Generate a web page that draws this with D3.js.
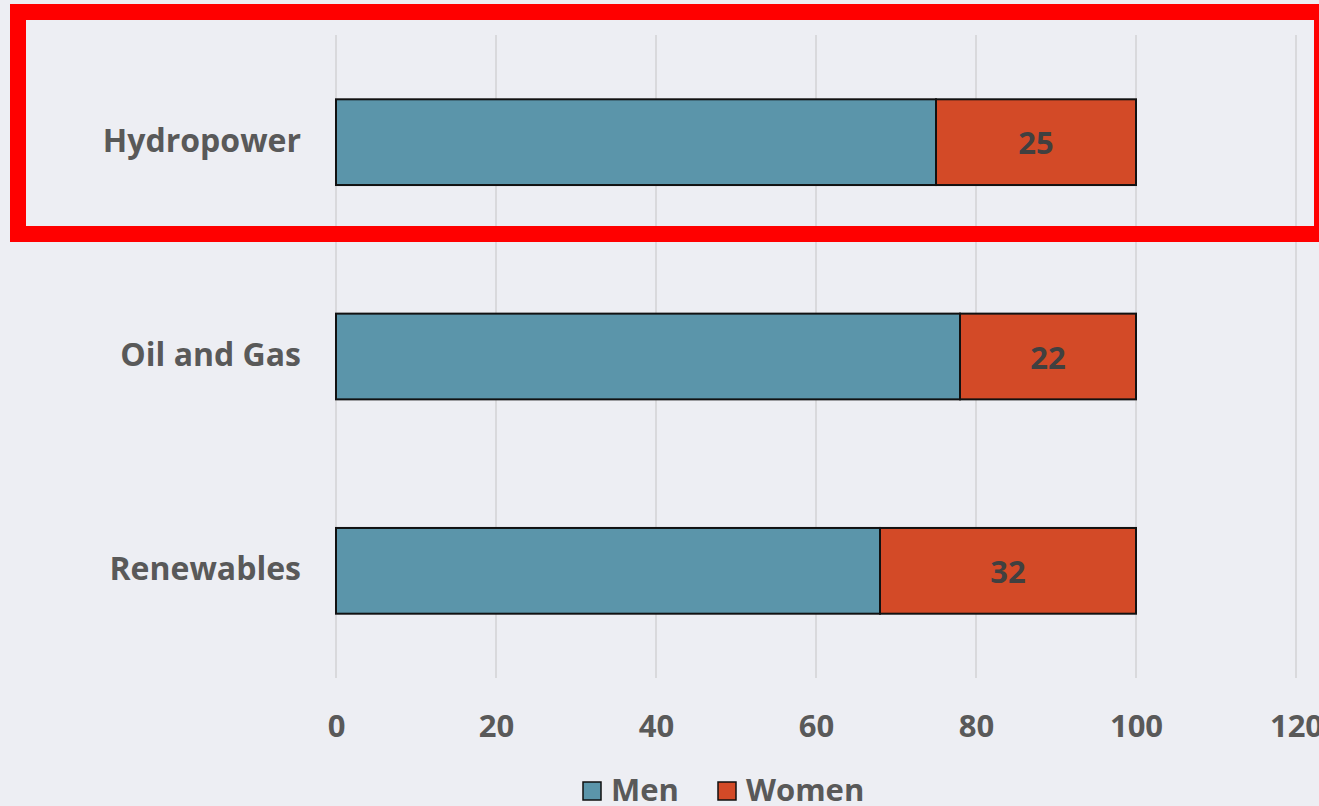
<!DOCTYPE html>
<html><head><meta charset="utf-8">
<script src="https://cdn.jsdelivr.net/npm/d3@7"></script>
<style>
html,body{margin:0;padding:0;background:#EDEEF3;}
svg{display:block;font-family:"Open Sans",sans-serif;}
</style></head>
<body><svg id="chart" width="1319" height="806"></svg>
<script>
const categories = ["Hydropower", "Oil and Gas", "Renewables"];
const men = [75, 78, 68];
const women = [25, 22, 32];
const xTicks = [0, 20, 40, 60, 80, 100, 120];
const seriesNames = ["Men", "Women"];
const seriesColors = ["#5B95AA", "#D34A27"];

const svg = d3.select("#chart");
svg.append("rect").attr("width",1319).attr("height",806).attr("fill","#EDEEF3");

const x = d3.scaleLinear().domain([0,120]).range([336,1296]);
const y = d3.scaleBand().domain(categories).range([35,678]).paddingInner(0.6).paddingOuter(0.3);

// gridlines
svg.append("g").selectAll("line").data(xTicks).join("line")
  .attr("x1",d=>x(d)).attr("x2",d=>x(d)).attr("y1",35).attr("y2",678)
  .attr("stroke","#D9D9DC").attr("stroke-width",2);

// x axis labels
const xAxis = d3.axisBottom(x).tickValues(xTicks).tickSize(0).tickPadding(0);
const gx = svg.append("g").attr("transform","translate(0,726)").call(xAxis);
gx.select(".domain").remove();
gx.selectAll("text").attr("font-size",31).attr("font-weight",700).attr("fill","#595959")
  .attr("font-family","'Open Sans',sans-serif").attr("dy","0.36em");

// y axis labels
const yAxis = d3.axisLeft(y).tickSize(0).tickPadding(0);
const gy = svg.append("g").attr("transform","translate(301,0)").call(yAxis);
gy.select(".domain").remove();
gy.selectAll("text").attr("font-size",32).attr("font-weight",700).attr("fill","#595959")
  .attr("font-family","'Open Sans',sans-serif").attr("dy","0.3em");

const rows = categories.map((c,i)=>({c, m:men[i], w:women[i]}));

// men bars
svg.append("g").selectAll("rect").data(rows).join("rect")
  .attr("x",x(0)).attr("y",d=>y(d.c)).attr("width",d=>x(d.m)-x(0)).attr("height",y.bandwidth())
  .attr("fill",seriesColors[0]).attr("stroke","#111").attr("stroke-width",2);
// women bars
svg.append("g").selectAll("rect").data(rows).join("rect")
  .attr("x",d=>x(d.m)).attr("y",d=>y(d.c)).attr("width",d=>x(d.m+d.w)-x(d.m)).attr("height",y.bandwidth())
  .attr("fill",seriesColors[1]).attr("stroke","#111").attr("stroke-width",2);
// labels
svg.append("g").selectAll("text").data(rows).join("text")
  .attr("x",d=>x(d.m+d.w/2)).attr("y",d=>y(d.c)+y.bandwidth()/2+1)
  .attr("dy","0.36em").attr("text-anchor","middle")
  .attr("font-size",31).attr("font-weight",700).attr("fill","#404040")
  .text(d=>d.w);

// legend
const leg = svg.append("g");
const legX = [583, 718];
seriesNames.forEach((s,i)=>{
  leg.append("rect").attr("x",legX[i]).attr("y",782).attr("width",18).attr("height",18)
    .attr("fill",seriesColors[i]).attr("stroke","#111").attr("stroke-width",1.5);
  leg.append("text").attr("x",legX[i]+28).attr("y",790).attr("dy","0.36em")
    .attr("font-size",31).attr("font-weight",700).attr("fill","#595959").text(s);
});

// highlight box
svg.append("rect").attr("x",18).attr("y",12).attr("width",1304).attr("height",222)
  .attr("fill","none").attr("stroke","#FF0000").attr("stroke-width",16);
</script></body></html>
